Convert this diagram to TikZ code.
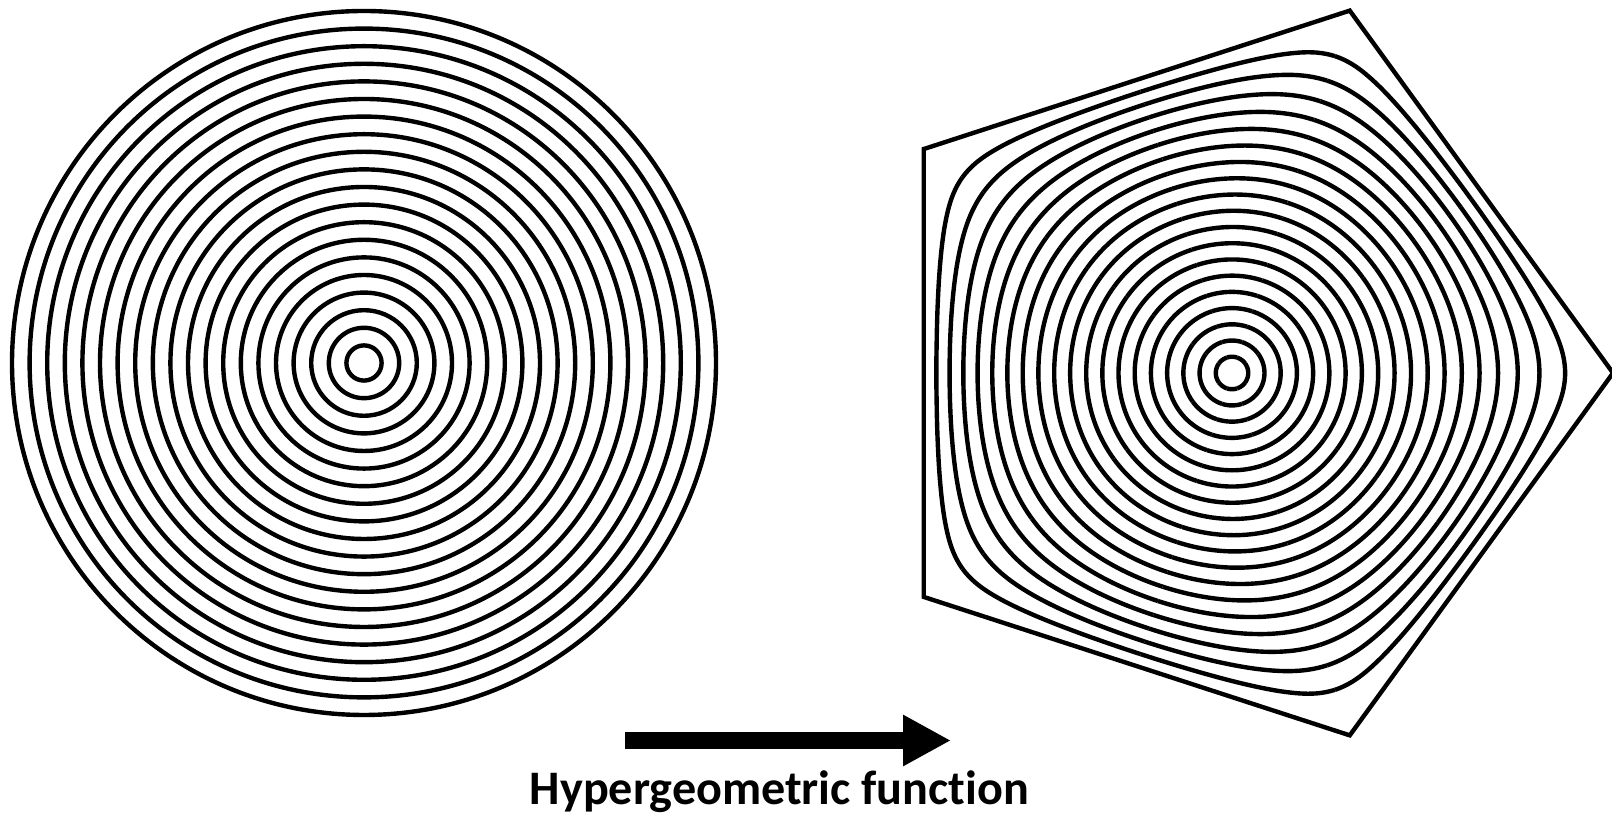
\documentclass[tikz,border=0pt]{standalone}
\usepackage{fontspec}
\setmainfont{Carlito}[Ligatures=NoCommon]
\usepackage{tikz}
\usetikzlibrary{arrows.meta}
\tikzset{
  ring/.style     = {line width=1.25pt, draw=black},
  bigarrow/.style = {-{Triangle[length=4.8mm,width=4.8mm]}, line width=1.7mm, draw=black},
  caption/.style  = {font=\fontsize{13.7}{16}\selectfont\bfseries, inner sep=0pt},
}
% series coefficients of the pentagon map
\newcommand{\mapsum}[2]{\bA*#1(#2)+\bB*#1(6*#2)+\bC*#1(11*#2)+\bD*#1(16*#2)
  +\bE*#1(21*#2)+\bF*#1(26*#2)+\bG*#1(31*#2)+\bH*#1(36*#2)+\bI*#1(41*#2)
  +\bJ*#1(46*#2)+\bK*#1(51*#2)+\bL*#1(56*#2)+\bM*#1(61*#2)+\bN*#1(66*#2)+\bO*#1(71*#2)}

\begin{document}
\begin{tikzpicture}

  \useasboundingbox (0,0) rectangle (16.12,8.15);

  \coordinate (disk) at (3.64,4.52);
  \coordinate (penta) at (12.32,4.42);

  % unit disk
  \foreach \k in {1,...,20}
    \draw[ring] (disk) circle[radius=\k*0.176];

  % image under the map
  \begin{scope}[shift={(penta)}]
    \draw[ring] (0:3.81) -- (72:3.81) -- (144:3.81) -- (216:3.81) -- (288:3.81) -- cycle;
  \end{scope}
  \begin{scope}[shift={(penta)}, x=3.244cm, y=3.244cm]
    \foreach \k in {1,...,19} {
      \pgfmathsetmacro\rr{\k/20}
      \pgfmathsetmacro\rf{\rr*\rr*\rr*\rr*\rr}
      \pgfmathsetmacro\pw{\rr}        \pgfmathsetmacro\bA{\pw}
      \pgfmathsetmacro\pw{\pw*\rf}    \pgfmathsetmacro\bB{0.066667*\pw}
      \pgfmathsetmacro\pw{\pw*\rf}    \pgfmathsetmacro\bC{0.025455*\pw}
      \pgfmathsetmacro\pw{\pw*\rf}    \pgfmathsetmacro\bD{0.014*\pw}
      \pgfmathsetmacro\pw{\pw*\rf}    \pgfmathsetmacro\bE{0.009067*\pw}
      \pgfmathsetmacro\pw{\pw*\rf}    \pgfmathsetmacro\bF{0.006444*\pw}
      \pgfmathsetmacro\pw{\pw*\rf}    \pgfmathsetmacro\bG{0.004864*\pw}
      \pgfmathsetmacro\pw{\pw*\rf}    \pgfmathsetmacro\bH{0.00383*\pw}
      \pgfmathsetmacro\pw{\pw*\rf}    \pgfmathsetmacro\bI{0.003111*\pw}
      \pgfmathsetmacro\pw{\pw*\rf}    \pgfmathsetmacro\bJ{0.002588*\pw}
      \pgfmathsetmacro\pw{\pw*\rf}    \pgfmathsetmacro\bK{0.002194*\pw}
      \pgfmathsetmacro\pw{\pw*\rf}    \pgfmathsetmacro\bL{0.001889*\pw}
      \pgfmathsetmacro\pw{\pw*\rf}    \pgfmathsetmacro\bM{0.001647*\pw}
      \pgfmathsetmacro\pw{\pw*\rf}    \pgfmathsetmacro\bN{0.001452*\pw}
      \pgfmathsetmacro\pw{\pw*\rf}    \pgfmathsetmacro\bO{0.001292*\pw}
      \foreach \i in {0,...,72} {
        \pgfmathsetmacro\tt{\i/2}
        \pgfmathsetmacro\px{\mapsum{cos}{\tt}}
        \pgfmathsetmacro\py{\mapsum{sin}{\tt}}
        \ifnum\i=0 \xdef\sectorpath{(\px,\py)}\else \xdef\sectorpath{\sectorpath -- (\px,\py)}\fi
      }
      \foreach \j in {0,...,4} {
        \draw[ring, rotate=72*\j] \sectorpath;
        \draw[ring, rotate=72*\j, yscale=-1] \sectorpath;
      }
    }
  \end{scope}

  \coordinate (arrowtail) at (6.25,0.745);
  \coordinate (arrowtip) at (9.51,0.745);
  \draw[bigarrow] (arrowtail) -- (arrowtip);

  \node[caption, anchor=base] (label) at (7.795,0.1) {Hypergeometric function};

\end{tikzpicture}
\end{document}
